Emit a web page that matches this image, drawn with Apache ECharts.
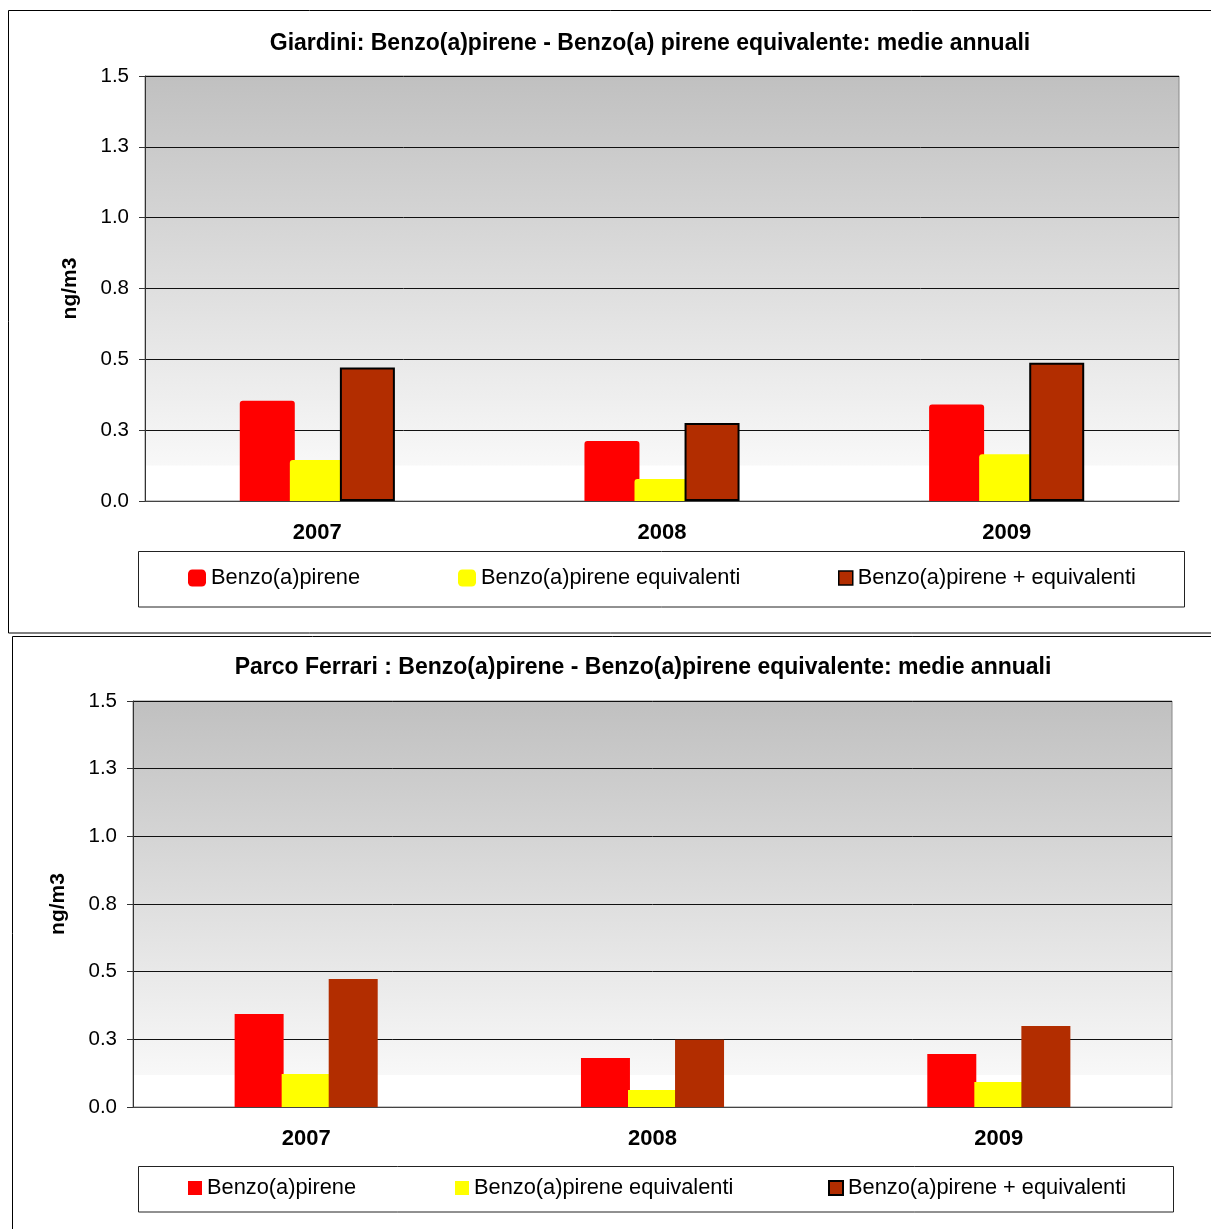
<!DOCTYPE html>
<html>
<head>
<meta charset="utf-8">
<script src="https://cdn.jsdelivr.net/npm/echarts@6/dist/echarts.min.js"></script>
<style>
  html, body { margin: 0; padding: 0; background: #fff; }
  #chart { width: 1211px; height: 1229px; }
</style>
</head>
<body>
<div id="chart"></div>
<script>
// Annual means (ng/m3) at the two monitoring stations
const years = ['2007', '2008', '2009'];
const seriesNames = ['Benzo(a)pirene', 'Benzo(a)pirene equivalenti', 'Benzo(a)pirene + equivalenti'];

const giardiniBaP = [0.354, 0.212, 0.341];
const giardiniEq  = [0.145, 0.078, 0.165];
const giardiniTot = [0.471, 0.275, 0.488];

const ferrariBaP = [0.344, 0.181, 0.196];
const ferrariEq  = [0.122, 0.063, 0.092];
const ferrariTot = [0.473, 0.248, 0.299];

const titles = [
  'Giardini: Benzo(a)pirene - Benzo(a) pirene equivalente: medie annuali',
  'Parco Ferrari : Benzo(a)pirene - Benzo(a)pirene equivalente: medie annuali'
];
const yTicks = { min: 0, max: 1.5, step: 0.25 };

const colors = ['#ff0000', '#ffff00', '#b22d00'];
const FONT = 'Arial, "Liberation Sans", sans-serif';

function plotBackground(whiteFrom) {
  return {
    type: 'linear', x: 0, y: 0, x2: 0, y2: 1,
    colorStops: [
      { offset: 0, color: '#c0c0c0' },
      { offset: whiteFrom, color: '#f8f8f8' },
      { offset: whiteFrom + 0.001, color: '#ffffff' },
      { offset: 1, color: '#ffffff' }
    ]
  };
}

const grids = [
  { left: 145, right: 32, top: 76, height: 425, show: true, borderColor: '#888', borderWidth: 1,
    backgroundColor: plotBackground(0.915) },
  { left: 133, right: 39, top: 701, height: 406, show: true, borderColor: '#888', borderWidth: 1,
    backgroundColor: plotBackground(0.919) }
];

function xAxis(gridIndex) {
  return {
    type: 'category', gridIndex, data: years,
    axisLine: { lineStyle: { color: '#444', width: 1 } },
    axisTick: { length: 6, lineStyle: { color: '#444' } },
    axisLabel: { fontFamily: FONT, fontSize: 22, fontWeight: 'bold', color: '#000', margin: 21 }
  };
}
function yAxis(gridIndex) {
  return {
    type: 'value', gridIndex,
    min: yTicks.min, max: yTicks.max, interval: yTicks.step,
    name: 'ng/m3', nameLocation: 'middle', nameGap: 64,
    nameTextStyle: { fontFamily: FONT, fontSize: 21, fontWeight: 'bold', color: '#000' },
    axisLine: { show: true, lineStyle: { color: '#333' } },
    axisTick: { show: true, length: 6, lineStyle: { color: '#333' } },
    axisLabel: { fontFamily: FONT, fontSize: 20.5, color: '#000', margin: 16,
      formatter: v => v.toFixed(1) },
    splitLine: { show: true, lineStyle: { color: '#111', width: 1 } }
  };
}

function bars(idx, values, panel) {
  const top = panel === 0;
  const style = { color: colors[idx] };
  if (top && idx < 2) style.borderRadius = [3, 3, 0, 0];
  if (top && idx === 2) { style.borderColor = '#000'; style.borderWidth = 2; }
  return {
    type: 'bar', name: seriesNames[idx], xAxisIndex: panel, yAxisIndex: panel,
    data: values, barWidth: top ? 55 : 49, barGap: top ? '-9%' : '-4%',
    itemStyle: style, silent: true
  };
}

const legendText = { fontFamily: FONT, fontSize: 21.8, color: '#000' };
function legendItem(idx, left, top, panel) {
  const first = panel === 0;
  const item = { name: seriesNames[idx] };
  if (first && idx === 2) item.itemStyle = { borderColor: '#000', borderWidth: 1.5 };
  return {
    data: [item], left, top, orient: 'horizontal', padding: 0,
    icon: first && idx < 2 ? 'roundRect' : 'rect',
    itemWidth: first ? (idx === 2 ? 14 : 18) : 14,
    itemHeight: first ? (idx === 2 ? 14 : 17) : 14,
    itemGap: 6, textStyle: legendText, selectedMode: false
  };
}

const titleStyle = { fontFamily: FONT, fontSize: 23, fontWeight: 'bold', color: '#000' };

const option = {
  animation: false,
  title: [
    { text: titles[0], left: 650, top: 32, textAlign: 'center', padding: 0, textStyle: titleStyle },
    { text: titles[1], left: 643, top: 656, textAlign: 'center', padding: 0, textStyle: titleStyle }
  ],
  grid: grids,
  xAxis: [xAxis(0), xAxis(1)],
  yAxis: [yAxis(0), yAxis(1)],
  legend: [
    legendItem(0, 188, 567, 0), legendItem(1, 458, 567, 0), legendItem(2, 838, 567, 0),
    legendItem(0, 188, 1177, 1), legendItem(1, 455, 1177, 1), legendItem(2, 828, 1177, 1)
  ],
  series: [
    bars(0, giardiniBaP, 0), bars(1, giardiniEq, 0), bars(2, giardiniTot, 0),
    bars(0, ferrariBaP, 1), bars(1, ferrariEq, 1), bars(2, ferrariTot, 1)
  ],
  graphic: [
    { type: 'rect', z: -10, shape: { x: 8.5, y: 10.5, width: 1210, height: 622.5 },
      style: { fill: 'none', stroke: '#000', lineWidth: 1 } },
    { type: 'rect', z: -10, shape: { x: 12.5, y: 636.5, width: 1205, height: 600 },
      style: { fill: 'none', stroke: '#000', lineWidth: 1 } },
    { type: 'rect', z: -5, shape: { x: 138.5, y: 551.5, width: 1046, height: 55.5 },
      style: { fill: '#fff', stroke: '#222', lineWidth: 1 } },
    { type: 'rect', z: -5, shape: { x: 138.5, y: 1166.5, width: 1035, height: 45.5 },
      style: { fill: '#fff', stroke: '#222', lineWidth: 1 } }
  ]
};

const chart = echarts.init(document.getElementById('chart'), null, { renderer: 'canvas' });
chart.setOption(option);
</script>
</body>
</html>
